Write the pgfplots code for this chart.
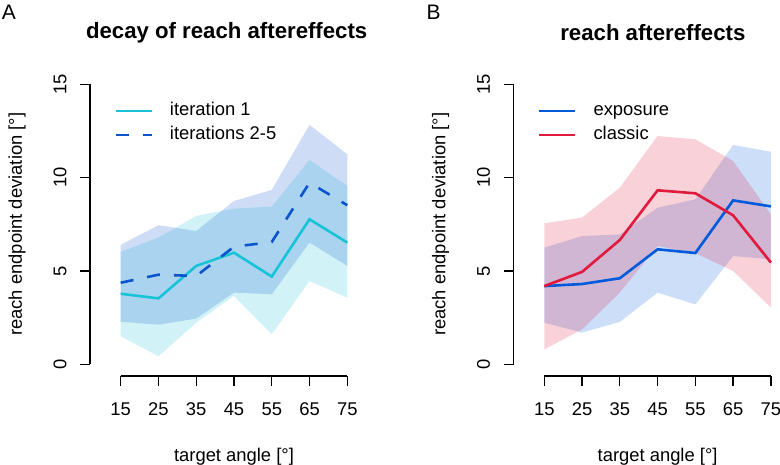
\documentclass[border=0pt]{standalone}
\usepackage{pgfplots}
\pgfplotsset{compat=1.18}
\usepackage{fontspec}
\setmainfont{Liberation Sans}
\newcommand\lab{\fontsize{18.4pt}{22pt}\selectfont}
\newcommand\ttl{\bfseries\fontsize{22.2pt}{26pt}\selectfont}

\definecolor{iterone}{RGB}{25,195,215}
\definecolor{iterrest}{RGB}{10,85,205}
\definecolor{expo}{RGB}{0,90,220}
\definecolor{classic}{RGB}{225,25,60}

\pgfplotsset{rstyle/.style={
  scale only axis, width=226.6pt, height=280pt,
  xmin=15, xmax=75, ymin=0, ymax=15,
  axis x line*=bottom, axis y line*=left,
  axis x line shift=11.7pt, axis y line shift=30.7pt,
  xtick={15,25,35,45,55,65,75}, ytick={0,5,10,15},
  tick align=outside, major tick length=10pt,
  axis line style={line width=1.3pt, black},
  every tick/.style={line width=1.3pt, black},
  /pgf/number format/assume math mode=true,
  ticklabel style={font=\lab},
  xticklabel shift=13pt, yticklabel shift=10pt,
  yticklabel style={rotate=90, anchor=south},
  xlabel={target angle [°]},
  ylabel={reach endpoint deviation [°]},
  xlabel style={at={(axis description cs:0.5,0)}, anchor=center, yshift=-92.2pt, font=\lab},
  ylabel style={at={(axis description cs:0,0.5)}, anchor=center, yshift=103.7pt, font=\lab},
  title style={at={(axis description cs:0.5,1)}, anchor=center, yshift=45.3pt, font=\ttl},
  clip=false,
  legend cell align=left,
  legend image code/.code={\draw[#1] (0pt,0pt) -- (36pt,0pt);},
  legend style={draw=none, fill=none, at={(axis description cs:-0.029,0.948)}, anchor=north west,
    font=\lab, inner sep=0pt, row sep=0pt,
    nodes={text height=13pt, text depth=5pt, inner sep=3pt, anchor=west},
    /tikz/every odd column/.append style={column sep=14pt}},
}}

\begin{document}
\begin{tikzpicture}
\useasboundingbox (0,0) rectangle (780pt,465pt);
\node[font=\fontsize{21pt}{25pt}\selectfont] at (9pt,452.5pt) {A};
\node[font=\fontsize{21pt}{25pt}\selectfont] at (433.5pt,453pt) {B};

\begin{axis}[rstyle, at={(120.7pt,100.7pt)}, anchor=south west,
  title={decay of reach aftereffects}, title style={xshift=-7.3pt}]
\addplot[draw=none, fill=iterone, fill opacity=0.2, forget plot] coordinates {
 (15,6.02) (25,6.79) (35,7.95) (45,8.34) (55,8.45) (65,10.95) (75,9.55)
 (75,3.57) (65,4.46) (55,1.61) (45,3.66) (35,2.23) (25,0.43) (15,1.50)} -- cycle;
\addplot[draw=none, fill=iterrest, fill opacity=0.2, forget plot] coordinates {
 (15,6.40) (25,7.45) (35,7.14) (45,8.75) (55,9.34) (65,12.83) (75,11.25)
 (75,5.27) (65,6.52) (55,3.75) (45,3.84) (35,2.45) (25,2.12) (15,2.28)} -- cycle;
\addplot[iterone, line width=2.6pt] coordinates {
 (15,3.78) (25,3.53) (35,5.27) (45,5.98) (55,4.70) (65,7.77) (75,6.52)};
\addlegendentry{iteration 1}
\addplot[iterrest, line width=2.6pt, dash pattern=on 13pt off 14pt] coordinates {
 (15,4.37) (25,4.80) (35,4.73) (45,6.30) (55,6.55) (65,9.73) (75,8.52)};
\addlegendentry{iterations 2-5}
\end{axis}

\begin{axis}[rstyle, at={(544.3pt,100.7pt)}, anchor=south west,
  title={reach aftereffects}, title style={xshift=-4.7pt}]
\addplot[draw=none, fill=expo, fill opacity=0.2, forget plot] coordinates {
 (15,6.25) (25,6.87) (35,6.96) (45,8.39) (55,8.84) (65,11.75) (75,11.39)
 (75,5.62) (65,5.80) (55,3.21) (45,3.84) (35,2.27) (25,1.70) (15,2.23)} -- cycle;
\addplot[draw=none, fill=classic, fill opacity=0.2, forget plot] coordinates {
 (15,7.55) (25,7.86) (35,9.46) (45,12.23) (55,12.05) (65,10.89) (75,8.03)
 (75,3.04) (65,5.00) (55,5.95) (45,6.34) (35,3.84) (25,1.87) (15,0.80)} -- cycle;
\addplot[expo, line width=2.6pt] coordinates {
 (15,4.19) (25,4.30) (35,4.61) (45,6.16) (55,5.96) (65,8.78) (75,8.46)};
\addlegendentry{exposure}
\addplot[classic, line width=2.6pt] coordinates {
 (15,4.19) (25,4.95) (35,6.66) (45,9.32) (55,9.16) (65,7.98) (75,5.45)};
\addlegendentry{classic}
\end{axis}
\end{tikzpicture}
\end{document}
